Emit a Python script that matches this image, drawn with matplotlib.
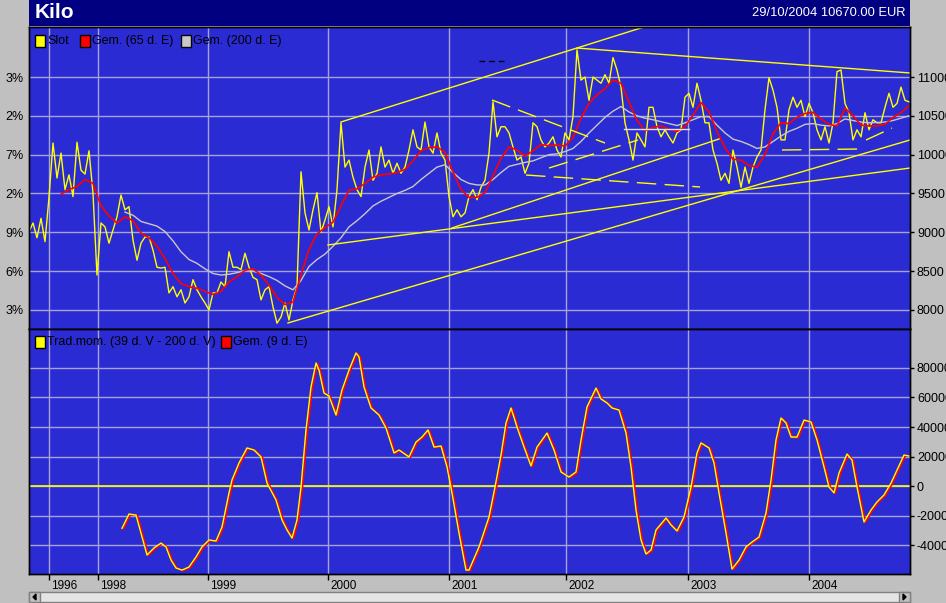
import numpy as np
import matplotlib
matplotlib.use('Agg')
import matplotlib.pyplot as plt
from matplotlib.patches import Rectangle, Polygon
from matplotlib import transforms

W, H = 946, 603
plt.rcParams['font.family'] = ['Liberation Sans', 'DejaVu Sans']

# koers (Slot), een waarde per bar
price = [9010, 9120, 8930, 9180, 8880, 9450, 10150, 9700, 10020, 9550,
         9740, 9460, 10160, 9800, 9750, 10050, 9500, 8450, 9120, 9070,
         8860, 9030, 9200, 9480, 9290, 9330, 8900, 8640, 8860, 8940,
         8940, 8770, 8550, 8540, 8550, 8220, 8300, 8170, 8260, 8090,
         8170, 8390, 8260, 8170, 8090, 8000, 8220, 8220, 8360, 8300,
         8750, 8550, 8550, 8520, 8730, 8550, 8420, 8390, 8130, 8260,
         8300, 8040, 7830, 7910, 8090, 7870, 8130, 8300, 9780, 9250,
         9030, 9290, 9510, 9000, 9160, 9330, 9070, 9550, 10410, 9840,
         9930, 9710, 9550, 9460, 9840, 10060, 9670, 9760, 10100, 9840,
         9930, 9760, 9890, 9760, 9840, 10060, 10320, 10100, 10060, 10420,
         10100, 10020, 10280, 10020, 9930, 9460, 9200, 9290, 9200, 9250,
         9460, 9550, 9420, 9580, 9670, 10020, 10680, 10230, 10360, 10360,
         10280, 10100, 9930, 9970, 9760, 9890, 10410, 10360, 10190, 10100,
         10150, 10230, 10060, 9970, 10280, 10190, 10490, 11350, 10960, 11000,
         10700, 11000, 10960, 10920, 11030, 10920, 11250, 11090, 10870, 10410,
         10190, 9930, 10280, 10190, 10100, 10610, 10610, 10360, 10230, 10320,
         10230, 10150, 10280, 10320, 10740, 10790, 10610, 10920, 10700, 10410,
         10410, 10060, 9890, 9670, 9760, 9630, 10060, 9840, 9580, 9840,
         9630, 9840, 9970, 10060, 10580, 10990, 10830, 10610, 10190, 10190,
         10580, 10740, 10610, 10700, 10490, 10660, 10540, 10320, 10190, 10360,
         10150, 10410, 11070, 11090, 10660, 10540, 10190, 10320, 10230, 10540,
         10320, 10450, 10410, 10410, 10610, 10790, 10610, 10660, 10870, 10700,
         10680]

# Gem. (65 d. E), elke 2 bars vanaf bar 8
ema65_start = 8
ema65 = [9490, 9550, 9590, 9680, 9630, 9340, 9210, 9120, 9200, 9150,
         8990, 8930, 8820, 8660, 8470, 8340, 8300, 8280, 8240, 8200,
         8240, 8360, 8430, 8510, 8530, 8450, 8320, 8160, 8070, 8100,
         8450, 8780, 8980, 9060, 9130, 9340, 9540, 9560, 9630, 9710,
         9740, 9750, 9770, 9810, 9920, 10050, 10090, 10100, 10030, 9780,
         9550, 9450, 9450, 9510, 9730, 9950, 10100, 10060, 9980, 10050,
         10130, 10115, 10125, 10110, 10220, 10470, 10660, 10770, 10850, 10960,
         10920, 10680, 10440, 10310, 10350, 10370, 10330, 10300, 10360, 10510,
         10670, 10550, 10300, 10090, 9940, 9930, 9860, 9840, 10000, 10270,
         10410, 10400, 10480, 10530, 10545, 10460, 10390, 10370, 10600, 10500,
         10380, 10370, 10370, 10390, 10480, 10540, 10630]

# Gem. (200 d. E), elke 2 bars vanaf bar 24
ema200_start = 24
ema200 = [9260, 9220, 9140, 9110, 9080, 9010, 8890, 8750, 8650, 8600,
          8530, 8470, 8450, 8460, 8480, 8510, 8500, 8470, 8430, 8380,
          8310, 8260, 8380, 8560, 8650, 8720, 8820, 8930, 9070, 9150,
          9240, 9340, 9400, 9450, 9500, 9540, 9590, 9680, 9760, 9840,
          9870, 9770, 9680, 9630, 9610, 9610, 9680, 9770, 9850, 9875,
          9900, 9920, 9960, 10000, 10010, 10040, 10080, 10170, 10280, 10380,
          10480, 10560, 10620, 10550, 10500, 10470, 10450, 10425, 10400, 10375,
          10410, 10450, 10490, 10490, 10380, 10280, 10200, 10170, 10130, 10080,
          10100, 10170, 10240, 10300, 10340, 10390, 10400, 10380, 10370, 10400,
          10460, 10440, 10420, 10410, 10415, 10420, 10440, 10470, 10500]

# Trad.mom. (39 d. V - 200 d. V)
mom_bar = [23.25, 25, 26.75, 28.25, 29.5, 31.25, 33, 34.25, 35.5, 36.75,
           38.25, 40, 41.75, 43.25, 45, 46.75, 48.25, 50, 50.75, 52.5,
           54.5, 56.25, 58, 59.5, 61.75, 63.25, 64.5, 65.75, 67, 68,
           69.25, 70.5, 71.75, 72.5, 73.75, 75, 76.75, 78.25, 80, 81.75,
           82.5, 83.75, 85.5, 87.5, 89.25, 91.25, 92.5, 95, 96.75, 98.25,
           99.75, 101.25, 103, 104.5, 105.75, 107.5, 109.25, 110, 112.5, 115,
           116.5, 118, 119.25, 120.5, 122, 123.75, 125.5, 127, 129.5, 131.25,
           133, 135, 136.75, 138, 139.5, 141.75, 143, 144.5, 145.75, 147.5,
           149.25, 150.5, 151.75, 153, 154.25, 155.5, 156.75, 159.25, 160.5, 162,
           163.75, 165.5, 167, 168, 170, 171.25, 172.5, 174.25, 175.75, 177.5,
           179.25, 180.75, 182.5, 184.25, 185.5, 186.75, 188, 189.25, 190.5, 192,
           193.75, 195.5, 197, 198.75, 200, 201.25, 202.5, 204.5, 205.75, 207,
           208.75, 210.5, 212, 213.75, 215.5, 217, 218.75, 220]
mom_val = [-28700, -19000, -19700, -34600, -46800, -42000, -38700, -41300, -50200, -55600,
           -57000, -54900, -48100, -41300, -36600, -37300, -27800, -4700, 4100, 15600,
           25800, 24400, 19700, 2000, -9500, -23000, -29800, -35300, -23000, -700,
           38000, 67100, 83400, 78600, 63000, 61000, 48100, 65100, 78600, 90200,
           87500, 67100, 52900, 48100, 39300, 22400, 24400, 19700, 29800, 33200,
           38000, 26400, 27100, 12900, -4700, -31900, -57000, -57000, -41300, -21000,
           -700, 21000, 42700, 52900, 40000, 26400, 13600, 26400, 35900, 24400,
           9500, 6100, 9500, 31200, 53600, 66400, 59000, 56300, 52900, 51500,
           35900, 12900, -16300, -36600, -46100, -43400, -29800, -21700, -26400, -30500,
           -21000, -700, 22400, 29200, 25800, 15600, -4700, -31900, -56300, -50200,
           -41300, -38000, -34600, -18300, 4100, 31200, 46100, 42700, 33200, 33200,
           44700, 43400, 31200, 12900, -700, -4700, 8800, 21700, 17600, -700,
           -24400, -16300, -10800, -6100, 2000, 10800, 21000, 20300]

# getekende trendlijnen (bar, koers) -> (bar, koers)
trend_solid = [(64.75, 7833, 220.25, 10189),
               (74.75, 8837, 220.25, 9828),
               (105.75, 9056, 172.5, 10202),
               (78, 10421, 153.75, 11644),
               (137, 11373, 220.25, 11052)]
trend_dashed = [(115.75, 10704, 144, 10150),
                (124.25, 9738, 167.75, 9584),
                (130, 9828, 152.25, 10189),
                (188.25, 10060, 208.25, 10073),
                (209.25, 10189, 215.75, 10343)]
trend_black = [(112.5, 11206, 119.5, 11206)]
trend_light = [(148.75, 10331, 165, 10331)]

year_bars = [5, 17.25, 44.75, 74.75, 105, 134.25, 164.75, 195]
year_labels = ['1996', '1998', '1999', '2000', '2001', '2002', '2003', '2004']
price_ticks = [8000, 8500, 9000, 9500, 10000, 10500, 11000]
pct_labels = ['3%', '6%', '9%', '2%', '7%', '2%', '3%']
mom_ticks = [-40000, -20000, 0, 20000, 40000, 60000, 80000]

BG = '#c0c0c0'
BLUE = '#2b2bd3'
GRID = '#a4a4dc'
YEL = '#ffff00'
FS = 9


def fx(px):
    return px / W


def fy(py):
    return 1 - py / H


fig = plt.figure(figsize=(W / 100, H / 100), dpi=100, facecolor=BG)

# titelbalk
axt = fig.add_axes([fx(29), fy(26), 881 / W, 26 / H])
axt.set_facecolor('#000080')
axt.set_xticks([])
axt.set_yticks([])
for s in axt.spines.values():
    s.set_visible(False)
fig.text(fx(35), fy(13), 'Kilo', color='white', fontsize=15, fontweight='bold',
         va='center', ha='left')
fig.text(fx(905), fy(13), '29/10/2004 10670.00 EUR', color='white', fontsize=9.3,
         va='center', ha='right')

xmax = len(price) - 1 + 0.25

# bovenste paneel: koers
ax1 = fig.add_axes([fx(29), fy(329), 881 / W, 302 / H])
ax1.set_facecolor(BLUE)
ax1.set_xlim(0, xmax)
ax1.set_ylim(7755, 11644)
ax1.set_axisbelow(True)
ax1.set_xticks(year_bars)
ax1.set_yticks(price_ticks)
ax1.set_yticklabels(pct_labels)
ax1.grid(True, color=GRID, lw=1)
ax1.tick_params(axis='x', length=0, labelbottom=False)
ax1.tick_params(axis='y', length=0, pad=4, labelsize=FS, colors='black')

bars = np.arange(len(price))
ax1.plot(bars, price, color=YEL, lw=1.0)
ax1.plot(ema200_start + 2 * np.arange(len(ema200)), ema200, color='#c8c8c8', lw=1.0)
ax1.plot(ema65_start + 2 * np.arange(len(ema65)), ema65, color='red', lw=1.2)
for t0, v0, t1, v1 in trend_solid:
    ax1.plot([t0, t1], [v0, v1], color=YEL, lw=1.0)
for t0, v0, t1, v1 in trend_dashed:
    ax1.plot([t0, t1], [v0, v1], color=YEL, lw=1.0, ls=(0, (14, 6)))
for t0, v0, t1, v1 in trend_black:
    ax1.plot([t0, t1], [v0, v1], color='black', lw=1.0, ls=(0, (4, 3)))
for t0, v0, t1, v1 in trend_light:
    ax1.plot([t0, t1], [v0, v1], color='#e0e0e0', lw=1.0)

ax1r = ax1.twinx()
ax1r.set_ylim(ax1.get_ylim())
ax1r.set_yticks(price_ticks)
ax1r.set_yticklabels([str(v) for v in price_ticks])
ax1r.tick_params(axis='y', length=3, width=1, pad=2, labelsize=FS, colors='black')

# onderste paneel: momentum
ax2 = fig.add_axes([fx(29), fy(574), 881 / W, 245 / H])
ax2.set_facecolor(BLUE)
ax2.set_xlim(0, xmax)
ax2.set_ylim(-59660, 106440)
ax2.set_axisbelow(True)
ax2.set_xticks(year_bars)
ax2.set_yticks(mom_ticks)
ax2.grid(True, color=GRID, lw=1)
ax2.tick_params(axis='x', length=4, width=1, labelbottom=False, colors='black')
ax2.tick_params(axis='y', length=0, labelleft=False)
ax2.axhline(0, color=YEL, lw=1.2)
lag = transforms.offset_copy(ax2.transData, fig=fig, x=1.5, y=-0.5, units='dots')
ax2.plot(mom_bar, mom_val, color='red', lw=1.2, transform=lag)
ax2.plot(mom_bar, mom_val, color=YEL, lw=1.0)
for b, lab in zip(year_bars, year_labels):
    ax2.annotate(lab, xy=(b, 0), xycoords=('data', 'axes fraction'), xytext=(2, -6),
                 textcoords='offset pixels', ha='left', va='top', fontsize=8.5)

ax2r = ax2.twinx()
ax2r.set_ylim(ax2.get_ylim())
ax2r.set_yticks(mom_ticks)
ax2r.set_yticklabels([str(v) for v in mom_ticks])
ax2r.tick_params(axis='y', length=3, width=1, pad=2, labelsize=FS, colors='black')

for a in (ax1, ax1r, ax2, ax2r):
    for s in a.spines.values():
        s.set_color('black')
        s.set_linewidth(1)

# legenda's
def legend_item(px, py, color, text):
    fig.add_artist(Rectangle((fx(px), fy(py + 6)), 10 / W, 12 / H, transform=fig.transFigure,
                             facecolor=color, edgecolor='black', lw=1))
    fig.text(fx(px + 12), fy(py), text, fontsize=FS, va='center', ha='left', color='black')

legend_item(35, 41, YEL, 'Slot')
legend_item(80, 41, 'red', 'Gem. (65 d. E)')
legend_item(181, 41, '#c8c8c8', 'Gem. (200 d. E)')
legend_item(35, 342, YEL, 'Trad.mom. (39 d. V - 200 d. V)')
legend_item(221, 342, 'red', 'Gem. (9 d. E)')

# schuifbalk
fig.add_artist(Rectangle((fx(29), fy(602)), 881 / W, 10 / H, transform=fig.transFigure,
                         facecolor='#e4e4e4', edgecolor='#808080', lw=1))
for bx in (29, 899):
    fig.add_artist(Rectangle((fx(bx), fy(602)), 11 / W, 10 / H, transform=fig.transFigure,
                             facecolor=BG, edgecolor='#808080', lw=1))
fig.add_artist(Polygon([(fx(33), fy(597)), (fx(36), fy(594)), (fx(36), fy(600))],
                       closed=True, transform=fig.transFigure, color='black'))
fig.add_artist(Polygon([(fx(906), fy(597)), (fx(903), fy(594)), (fx(903), fy(600))],
                       closed=True, transform=fig.transFigure, color='black'))

fig.savefig('out.png', dpi=100, facecolor=BG)
